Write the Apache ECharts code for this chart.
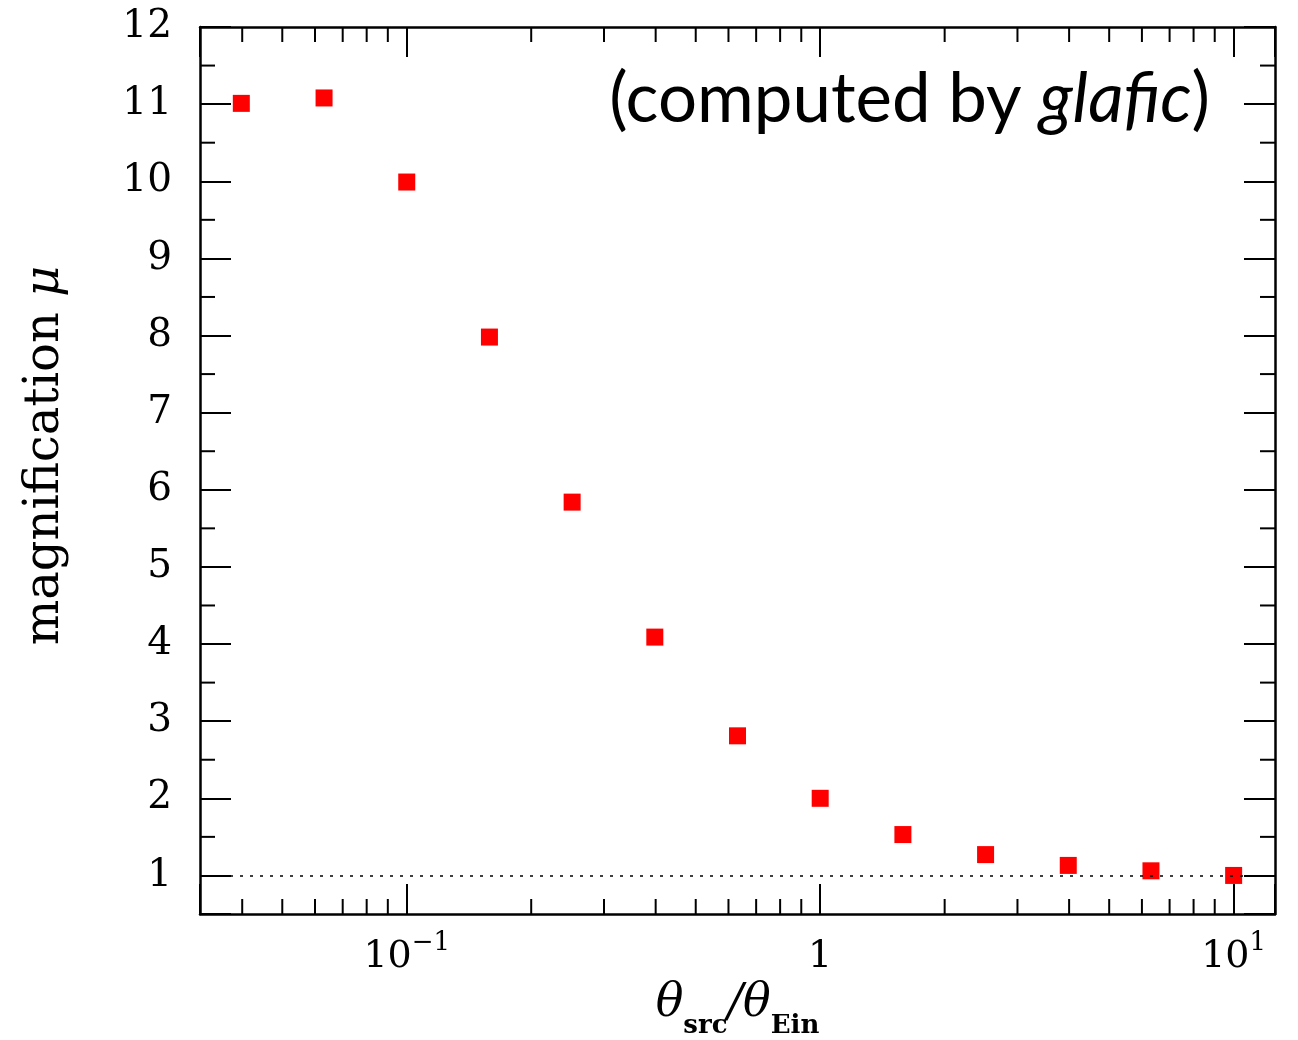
<!DOCTYPE html>
<html>
<head>
<meta charset="utf-8">
<script src="https://cdn.jsdelivr.net/npm/echarts@6/dist/echarts.min.js"></script>
<style>
  html, body { margin: 0; padding: 0; background: #fff; }
  #chart1 { width: 1298px; height: 1040px; }
</style>
</head>
<body>
<div id="chart1"></div>
<script>
// source size relative to Einstein radius, and magnification
const thetaRatio = [0.0398, 0.0631, 0.1, 0.1585, 0.2512, 0.3981, 0.631, 1, 1.585, 2.512, 3.981, 6.31, 10]
const magnification = [11.01, 11.08, 9.99, 7.98, 5.84, 4.09, 2.81, 2.00, 1.53, 1.27, 1.13, 1.06, 1.00]

const xMin = 0.03162, xMax = 12.59
const yMin = 0.5, yMax = 12
// minor ticks (log axis: 2..9 per decade, linear axis: half units)
const xMinorTicks = [0.04, 0.05, 0.06, 0.07, 0.08, 0.09, 0.2, 0.3, 0.4, 0.5, 0.6, 0.7, 0.8, 0.9, 2, 3, 4, 5, 6, 7, 8, 9]
const yMinorTicks = [1.5, 2.5, 3.5, 4.5, 5.5, 6.5, 7.5, 8.5, 9.5, 10.5, 11.5]
const xTickLabels = { '0.1': '{n|10}{s|\u22121}', '1': '{n|1}', '10': '{n|10}{s|1}' }

let dom = document.getElementById("chart1")
let myChart = echarts.init(dom)

const lineCol = '#000'
const serif = 'DejaVu Serif'

function logAxis(pos, showLabel) {
    return {
        type: 'log',
        logBase: 10,
        position: pos,
        min: xMin,
        max: xMax,
        axisLine: { show: true, lineStyle: { color: lineCol, width: 2.5 } },
        axisTick: { show: true, inside: true, length: 30, lineStyle: { color: lineCol, width: 2 } },
        splitLine: { show: false },
        axisLabel: {
            show: showLabel,
            margin: 16,
            formatter: function (v) {
                const key = String(Math.round(v * 1000) / 1000)
                return xTickLabels[key] || ''
            },
            rich: {
                n: { fontFamily: serif, fontSize: 38, color: '#000', lineHeight: 46, verticalAlign: 'bottom' },
                s: { fontFamily: serif, fontSize: 26, color: '#000', lineHeight: 30, verticalAlign: 'top' }
            }
        }
    }
}

function linAxis(pos, showLabel) {
    return {
        type: 'value',
        position: pos,
        min: yMin,
        max: yMax,
        splitNumber: 11,
        axisLine: { show: true, lineStyle: { color: lineCol, width: 2.5 } },
        axisTick: { show: true, inside: true, length: 31, lineStyle: { color: lineCol, width: 2 } },
        splitLine: { show: false },
        axisLabel: {
            show: showLabel,
            margin: 28,
            fontFamily: serif,
            fontSize: 39,
            color: '#000',
            formatter: function (v) { return Number.isInteger(v) ? String(v) : '' }
        }
    }
}

let xBottom = logAxis('bottom', true)
xBottom.name = '{t|\u03b8}{s|src}{t|/\u03b8}{s|Ein}'
xBottom.nameLocation = 'middle'
xBottom.nameGap = 60
xBottom.nameTextStyle = {
    rich: {
        t: { fontFamily: serif, fontStyle: 'italic', fontSize: 46, color: '#000', lineHeight: 58, verticalAlign: 'top' },
        s: { fontFamily: serif, fontWeight: 'bold', fontSize: 26, color: '#000', lineHeight: 28, verticalAlign: 'bottom' }
    }
}
let yLeft = linAxis('left', true)
yLeft.name = '{a|magnification }{b|\u03bc}'
yLeft.nameLocation = 'middle'
yLeft.nameGap = 130
yLeft.nameTextStyle = {
    padding: [0, 0, 0, 30],
    rich: {
        a: { fontFamily: serif, fontSize: 48, color: '#000' },
        b: { fontFamily: serif, fontStyle: 'italic', fontSize: 48, color: '#000' }
    }
}

function minorTickItem(horizontal) {
    return function (params, api) {
        const len = 15
        const st = { stroke: lineCol, lineWidth: 2 }
        if (horizontal) {
            const v = api.value(0)
            const b = api.coord([v, yMin])
            const t = api.coord([v, yMax])
            return { type: 'group', children: [
                { type: 'line', shape: { x1: b[0], y1: b[1], x2: b[0], y2: b[1] - len }, style: st },
                { type: 'line', shape: { x1: t[0], y1: t[1], x2: t[0], y2: t[1] + len }, style: st }
            ] }
        }
        const v = api.value(1)
        const l = api.coord([xMin, v])
        const r = api.coord([xMax, v])
        return { type: 'group', children: [
            { type: 'line', shape: { x1: l[0], y1: l[1], x2: l[0] + len, y2: l[1] }, style: st },
            { type: 'line', shape: { x1: r[0], y1: r[1], x2: r[0] - len, y2: r[1] }, style: st }
        ] }
    }
}

var option;
option = {
    backgroundColor: '#fff',
    animation: false,
    title: {
        text: '{a|(computed by }{b|glafic}{a|)}',
        right: 83,
        top: 60,
        textStyle: {
            rich: {
                a: { fontFamily: 'Lato', fontWeight: 'normal', fontSize: 69, color: '#000' },
                b: { fontFamily: 'Lato', fontWeight: 'normal', fontStyle: 'italic', fontSize: 69, color: '#000' }
            }
        }
    },
    grid: { left: 200, right: 23, top: 27, bottom: 126, outerBoundsMode: 'none' },
    xAxis: [xBottom, logAxis('top', false)],
    yAxis: [yLeft, linAxis('right', false)],
    series: [
        {
            type: 'scatter',
            symbol: 'rect',
            symbolSize: 17,
            itemStyle: { color: '#ff0000', opacity: 1 },
            data: thetaRatio.map((x, i) => [x, magnification[i]]),
            z: 3,
            markLine: {
                silent: true,
                symbol: 'none',
                label: { show: false },
                lineStyle: { color: '#000', width: 1.5, type: [3, 7] },
                data: [{ yAxis: 1 }]
            }
        },
        {
            type: 'custom',
            silent: true,
            renderItem: minorTickItem(true),
            data: xMinorTicks.map(v => [v, yMin]),
            z: 2
        },
        {
            type: 'custom',
            silent: true,
            renderItem: minorTickItem(false),
            data: yMinorTicks.map(v => [xMin, v]),
            z: 2
        }
    ]
}
if (option && typeof option === 'object') {
    myChart.setOption(option);
}
</script>
</body>
</html>
